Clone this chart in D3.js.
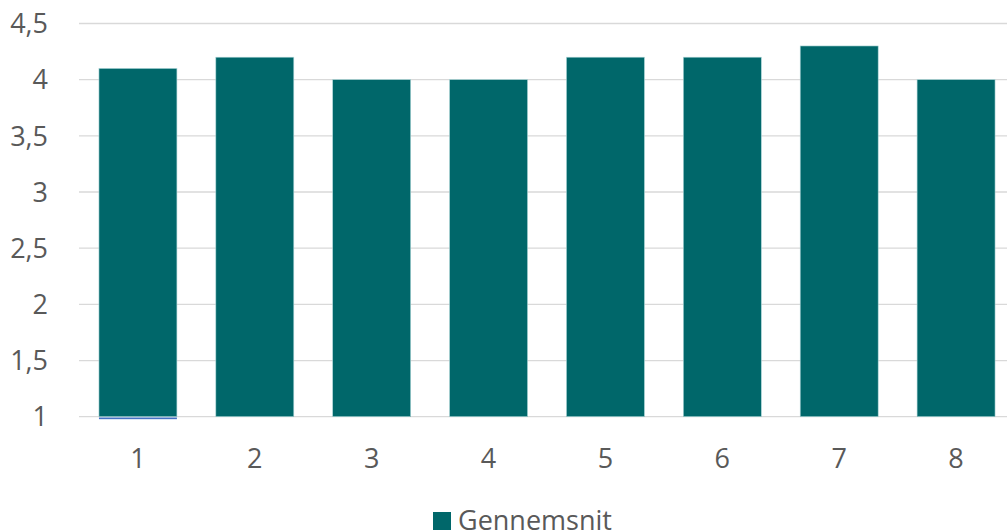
<!DOCTYPE html>
<html>
<head>
<meta charset="utf-8">
<script src="https://cdnjs.cloudflare.com/ajax/libs/d3/7.8.5/d3.min.js"></script>
<style>
  body { margin: 0; background: #fff; }
  text { font-family: "Open Sans", sans-serif; fill: #595959; }
</style>
</head>
<body>
<svg width="1007" height="531"></svg>
<script>
var categories = ["1", "2", "3", "4", "5", "6", "7", "8"];
var gennemsnit = [4.1, 4.2, 4.0, 4.0, 4.2, 4.2, 4.3, 4.0];
// small second series showing only under bar 1
var other = [0.985, null, null, null, null, null, null, null];
var yTicks = [1, 1.5, 2, 2.5, 3, 3.5, 4, 4.5];

var svg = d3.select("svg");

var x = d3.scaleBand()
  .domain(categories)
  .range([79.5, 1014.5])
  .paddingInner(0.333)
  .paddingOuter(0.1665);

var y = d3.scaleLinear()
  .domain([1, 4.5])
  .range([416.7, 23.5]);

var fmt = function(d) { return String(d).replace(".", ","); };

// gridlines
svg.append("g")
  .selectAll("line")
  .data(yTicks)
  .enter().append("line")
    .attr("x1", 79)
    .attr("x2", 1007)
    .attr("y1", function(d) { return y(d); })
    .attr("y2", function(d) { return y(d); })
    .attr("stroke", "#d9d9d9")
    .attr("stroke-width", 1.3);

// y labels
svg.append("g")
  .selectAll("text")
  .data(yTicks)
  .enter().append("text")
    .attr("x", 48)
    .attr("y", function(d) { return y(d); })
    .attr("dy", "0.36em")
    .attr("text-anchor", "end")
    .style("font-size", "27px")
    .text(fmt);

// bars
svg.append("g")
  .selectAll("rect")
  .data(gennemsnit)
  .enter().append("rect")
    .attr("x", function(d, i) { return x(categories[i]); })
    .attr("width", x.bandwidth())
    .attr("y", function(d) { return y(d); })
    .attr("height", function(d) { return y(1) - y(d); })
    .attr("fill", "#00676a")
    .attr("stroke", "#a9d4d6")
    .attr("stroke-width", 0.6);

// second series (below baseline)
svg.append("g")
  .selectAll("rect")
  .data(other.map(function(v, i) { return { v: v, c: categories[i] }; }).filter(function(d) { return d.v != null; }))
  .enter().append("rect")
    .attr("x", function(d) { return x(d.c); })
    .attr("width", x.bandwidth())
    .attr("y", y(1) + 0.8)
    .attr("height", function(d) { return y(d.v) - y(1); })
    .attr("fill", "#4472c4");

// x labels
svg.append("g")
  .selectAll("text")
  .data(categories)
  .enter().append("text")
    .attr("x", function(d) { return x(d) + x.bandwidth() / 2; })
    .attr("y", 468)
    .attr("text-anchor", "middle")
    .style("font-size", "27px")
    .text(function(d) { return d; });

// legend
var legend = svg.append("g");
legend.append("rect")
  .attr("x", 433)
  .attr("y", 512)
  .attr("width", 18)
  .attr("height", 18)
  .attr("fill", "#00676a");
legend.append("text")
  .attr("x", 458)
  .attr("y", 530)
  .style("font-size", "27px")
  .text("Gennemsnit");
</script>
</body>
</html>
